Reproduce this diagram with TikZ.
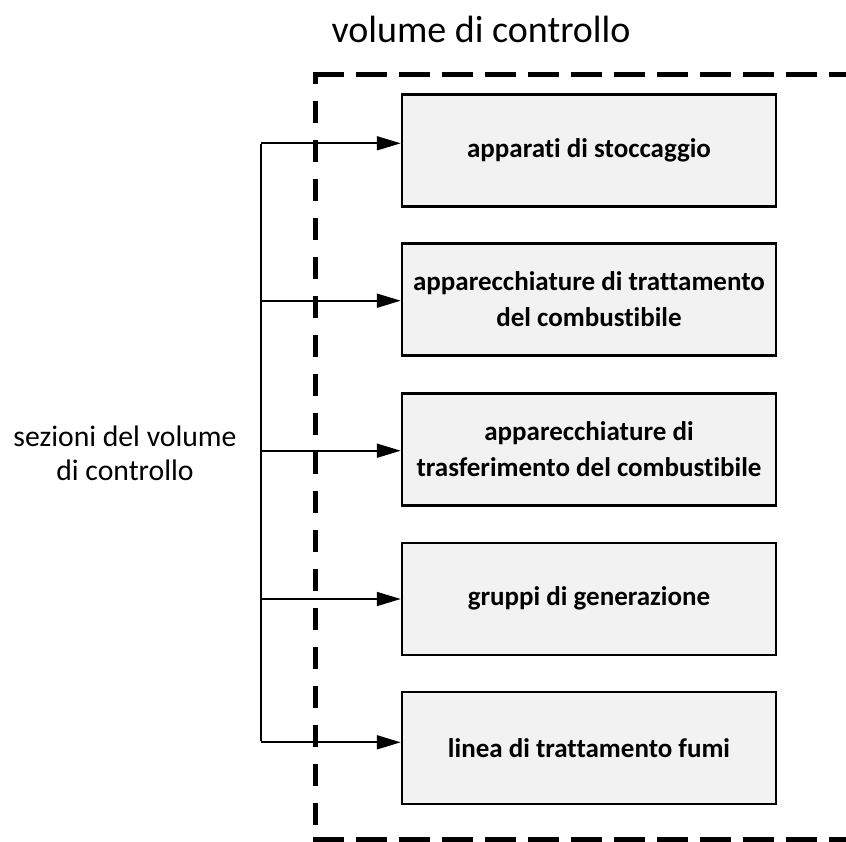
\documentclass[tikz,border=0pt]{standalone}
\usepackage{fontspec}
\setmainfont{Carlito}[Ligatures=NoCommon]
\usetikzlibrary{arrows.meta}
\definecolor{boxfill}{RGB}{242,242,242}
\begin{document}
\begin{tikzpicture}[x=1pt,y=-1pt,
  sectionbox/.style={draw=black, line width=2.5pt, fill=boxfill,
    minimum width=374pt, minimum height=112pt, inner sep=1pt, align=center,
    font=\fontsize{27}{36}\selectfont\bfseries},
  feed/.style={line width=1.8pt, -{Triangle[length=24pt,width=14pt]}},
  spine/.style={line width=1.8pt},
  boundary/.style={line width=5.5pt},
  caption/.style={inner sep=0pt, anchor=base}
]
\useasboundingbox (0,0) rectangle (846,842);
\begin{scope}
\clip (0,0) rectangle (846,842);

% control volume boundary (right side lies beyond the frame)
\draw[boundary, dash pattern=on 31pt off 12pt] (312.75,74.5) -- (880,74.5);
\draw[boundary, dash pattern=on 31pt off 12pt] (312.75,839.5) -- (880,839.5);
\draw[boundary, dash pattern=on 22pt off 17pt, dash phase=9.5pt] (315.5,71.75) -- (315.5,842.25);

% titles
\node[caption, font=\fontsize{38}{44}\selectfont] (title) at (481,43) {volume di controllo};
\node[caption, font=\fontsize{29.7}{33.3}\selectfont] (lab1) at (125,446.7) {sezioni del volume};
\node[caption, font=\fontsize{29.7}{33.3}\selectfont] (lab2) at (125,480) {di controllo};

% sections of the control volume
\node[sectionbox] (b1) at (589,150.5) {apparati di stoccaggio};
\node[sectionbox] (b2) at (589,299.3) {apparecchiature di trattamento\\del combustibile};
\node[sectionbox] (b3) at (589,449.3) {apparecchiature di\\trasferimento del combustibile};
\node[sectionbox] (b4) at (589,598.8) {gruppi di generazione};
\node[sectionbox] (b5) at (589,748.2) {linea di trattamento fumi};

% distribution spine
\coordinate (s1) at (261,143.3);
\coordinate (s2) at (261,300.7);
\coordinate (s3) at (261,450.7);
\coordinate (s4) at (261,599);
\coordinate (s5) at (261,742.3);
\draw[spine] ([yshift=-0.9pt]s1) -- ([yshift=0.9pt]s5);
\foreach \i in {1,...,5}{
  \draw[feed] (s\i) -- (s\i -| b\i.west);
}
\end{scope}
\end{tikzpicture}
\end{document}
